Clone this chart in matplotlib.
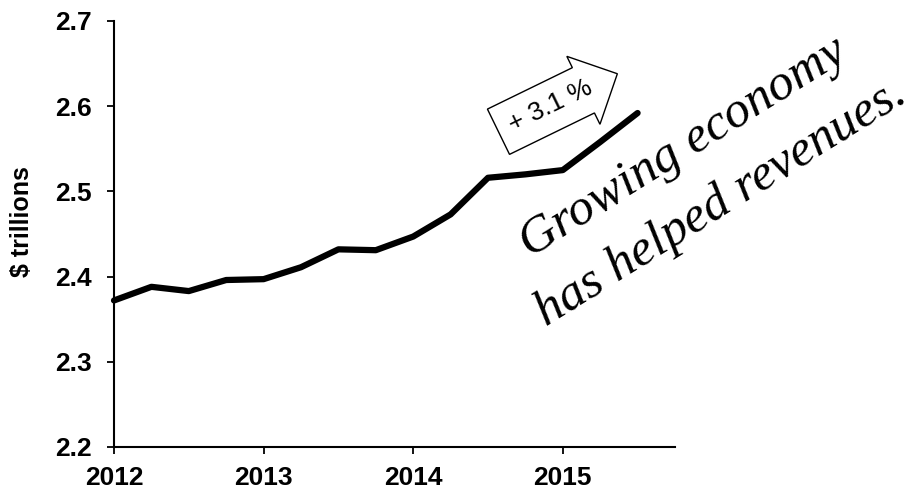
import matplotlib
matplotlib.use("Agg")
import matplotlib.pyplot as plt

# Quarterly revenue, $ trillions
quarters = [2012.0, 2012.25, 2012.5, 2012.75, 2013.0, 2013.25, 2013.5, 2013.75,
            2014.0, 2014.25, 2014.5, 2014.75, 2015.0, 2015.25, 2015.5]
revenue = [2.372, 2.388, 2.383, 2.396, 2.397, 2.411, 2.432, 2.431,
           2.447, 2.473, 2.516, 2.520, 2.525, 2.558, 2.592]
x_ticks = [2012, 2013, 2014, 2015]
x_labels = ["2012", "2013", "2014", "2015"]
y_ticks = [2.2, 2.3, 2.4, 2.5, 2.6, 2.7]
y_labels = ["2.2", "2.3", "2.4", "2.5", "2.6", "2.7"]

plt.rcParams['font.family'] = ['Liberation Sans', 'DejaVu Sans']

fig = plt.figure(figsize=(9.22, 4.93), dpi=100)
ax = fig.add_axes([114/922, 1-447/493, (675-114)/922, (447-21)/493])

ax.plot(quarters, revenue, color='black', lw=4.5, solid_capstyle='round',
        solid_joinstyle='round', clip_on=False)

ax.set_xlim(2012, 2015.75)
ax.set_ylim(2.2, 2.7)
ax.set_xticks(x_ticks)
ax.set_xticklabels(x_labels, fontsize=19, fontweight='bold')
ax.set_yticks(y_ticks)
ax.set_yticklabels(y_labels, fontsize=19, fontweight='bold')
ax.tick_params(axis='both', direction='out', length=5, width=1.3, color='black')
ax.tick_params(axis='y', pad=11)
ax.tick_params(axis='x', pad=9)
for s in ['top', 'right']:
    ax.spines[s].set_visible(False)
for s in ['left', 'bottom']:
    ax.spines[s].set_linewidth(1.5)
    ax.spines[s].set_color('black')

ax.set_ylabel("$ trillions", fontsize=18, fontweight='bold')
ax.yaxis.set_label_coords(-0.143, 0.53)

ax.text(2014.92, 2.600, "+ 3.1 %", fontsize=19, rotation=26,
        ha='center', va='center', rotation_mode='anchor',
        bbox=dict(boxstyle='rarrow,pad=0.5', fc='white', ec='black', lw=1.0))

hand = dict(family=['Liberation Serif', 'DejaVu Serif'], style='italic',
            fontsize=37, rotation=32, ha='center', va='center',
            rotation_mode='anchor')
fig.text(0.741, 0.700, "Growing economy", **hand)
fig.text(0.782, 0.588, "has helped revenues.", **hand)

fig.savefig("out.png", dpi=100)
